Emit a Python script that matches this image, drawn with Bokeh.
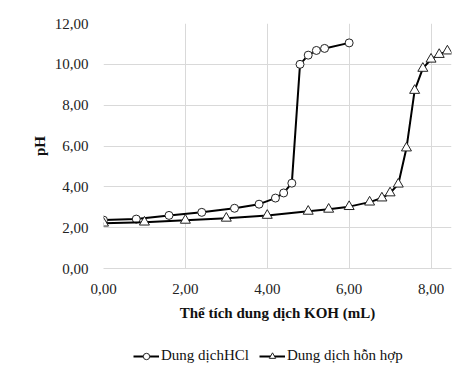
from bokeh.plotting import figure
from bokeh.layouts import column
from bokeh.models import (Range1d, CustomJSTickFormatter, SingleIntervalTicker,
                          Legend, LegendItem, ColumnDataSource)
from bokeh.embed import file_html
from bokeh.resources import INLINE

# Data
hcl_v = [0.0, 0.8, 1.6, 2.4, 3.2, 3.8, 4.2, 4.4, 4.6, 4.8, 5.0, 5.2, 5.4, 6.0]
hcl_ph = [2.37, 2.42, 2.60, 2.75, 2.95, 3.15, 3.45, 3.70, 4.18, 10.00, 10.45, 10.68, 10.78, 11.05]

mix_v = [0.0, 1.0, 2.0, 3.0, 4.0, 5.0, 5.5, 6.0, 6.5, 6.8, 7.0, 7.2, 7.4, 7.6, 7.8, 8.0, 8.2, 8.4]
mix_ph = [2.22, 2.27, 2.36, 2.46, 2.60, 2.80, 2.90, 3.03, 3.25, 3.45, 3.70, 4.13, 5.90, 8.72, 9.80, 10.25, 10.48, 10.65]

x_title = "Thể tích dung dịch KOH (mL)"
y_title = "pH"
label_hcl = "Dung dịchHCl"
label_mix = "Dung dịch hỗn hợp"

FONT = "Times New Roman"
GRID = "#d9d9d9"

p = figure(width=465, height=335, output_backend="svg", toolbar_location=None,
           x_range=Range1d(0, 8.5), y_range=Range1d(0, 12),
           min_border_left=103, min_border_right=14, min_border_top=23, min_border_bottom=67)
p.outline_line_color = None
p.background_fill_color = "white"
p.border_fill_color = "white"

fmt = CustomJSTickFormatter(code="return tick.toFixed(2).replace('.', ',');")
for ax in (p.xaxis[0], p.yaxis[0]):
    ax.formatter = fmt
    ax.major_tick_out = 0
    ax.major_tick_in = 0
    ax.minor_tick_out = 0
    ax.minor_tick_in = 0
    ax.major_tick_line_color = None
    ax.minor_tick_line_color = None
    ax.major_label_text_font = FONT
    ax.major_label_text_font_size = "15px"
    ax.major_label_text_color = "#222222"
    ax.axis_label_text_font = FONT
    ax.axis_label_text_font_style = "bold"
    ax.axis_label_text_font_size = "15px"
    ax.axis_label_text_color = "#111111"

p.xaxis[0].ticker = SingleIntervalTicker(interval=2)
p.yaxis[0].ticker = SingleIntervalTicker(interval=2)
p.xaxis[0].axis_line_color = GRID
p.yaxis[0].axis_line_color = None
p.xaxis[0].major_label_standoff = 15
p.yaxis[0].major_label_standoff = 15
p.xaxis[0].axis_label = x_title
p.yaxis[0].axis_label = y_title
p.xaxis[0].axis_label_standoff = 8
p.yaxis[0].axis_label_standoff = 4

p.xgrid.grid_line_color = GRID
p.ygrid.grid_line_color = GRID
p.xgrid.ticker = p.xaxis[0].ticker
p.ygrid.ticker = p.yaxis[0].ticker

src_h = ColumnDataSource(dict(x=hcl_v, y=hcl_ph))
src_m = ColumnDataSource(dict(x=mix_v, y=mix_ph))

line_kw = dict(line_color="black", line_width=2)
circ_kw = dict(marker="circle", size=8, fill_color="white", line_color="#222222", line_width=1)
tri_kw = dict(marker="triangle", size=10, fill_color="white", line_color="#222222", line_width=1)

p.line("x", "y", source=src_h, **line_kw)
p.scatter("x", "y", source=src_h, **circ_kw)
p.line("x", "y", source=src_m, **line_kw)
p.scatter("x", "y", source=src_m, **tri_kw)

# Legend strip below the chart (same series, drawn outside its visible range)
lf = figure(width=465, height=31, output_backend="svg", toolbar_location=None,
            x_range=Range1d(-20, -19), y_range=Range1d(-20, -19),
            min_border_left=0, min_border_right=0, min_border_top=0, min_border_bottom=0)
lf.axis.visible = False
lf.grid.visible = False
lf.outline_line_color = None
lf.background_fill_color = "white"
lf.border_fill_color = "white"
lh = lf.line("x", "y", source=src_h, **line_kw)
sh = lf.scatter("x", "y", source=src_h, marker="circle", size=6,
                fill_color="white", line_color="#222222", line_width=1)
lm = lf.line("x", "y", source=src_m, **line_kw)
sm = lf.scatter("x", "y", source=src_m, marker="triangle", size=7,
                fill_color="white", line_color="#222222", line_width=1)

legend = Legend(items=[LegendItem(label=label_hcl, renderers=[lh, sh]),
                       LegendItem(label=label_mix, renderers=[lm, sm])],
                orientation="horizontal", location=(30, 2),
                label_text_font=FONT, label_text_font_size="15px",
                label_text_color="#111111",
                glyph_width=26, glyph_height=16, label_height=16,
                label_standoff=2, spacing=10,
                padding=0, margin=0, border_line_color=None,
                background_fill_alpha=0)
lf.add_layout(legend, "center")

layout = column(p, lf, spacing=0)
open("out.html", "w").write(file_html(layout, INLINE))
